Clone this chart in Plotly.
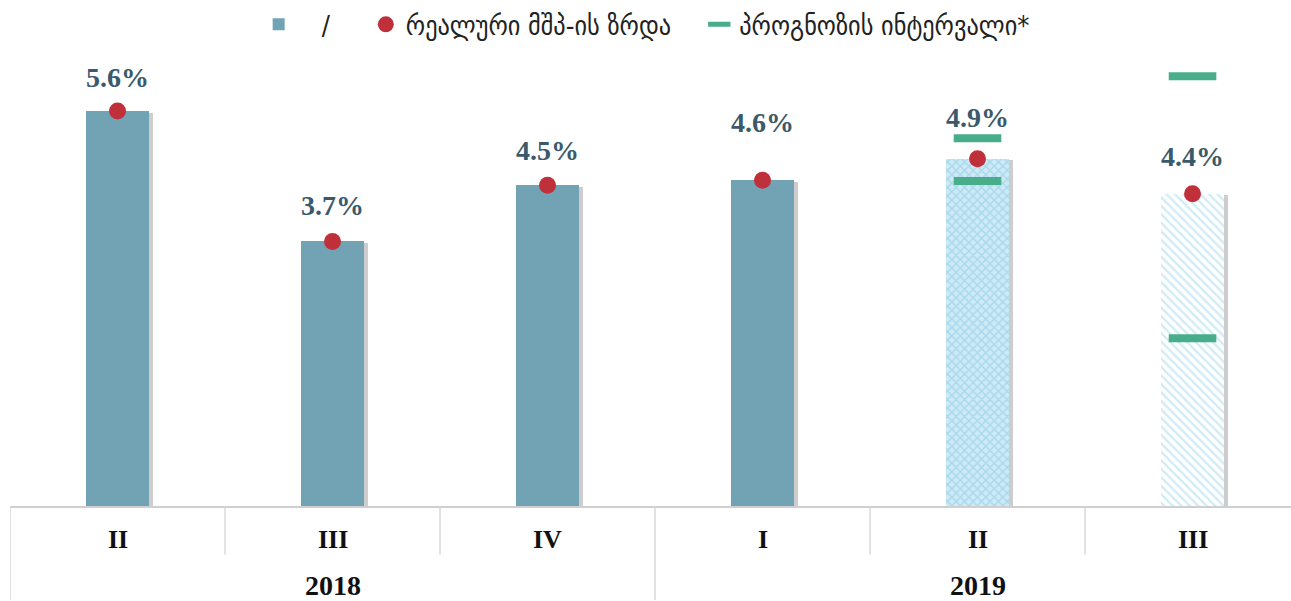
import plotly.graph_objects as go

# ---- data ----
quarters = ["II", "III", "IV", "I", "II", "III"]
years = ["2018", "2019"]
year_of_quarter = ["2018", "2018", "2018", "2019", "2019", "2019"]
gdp_growth = [5.56, 3.73, 4.52, 4.59, 4.89, 4.40]
bar_kind = ["actual", "actual", "actual", "actual", "estimate", "forecast"]
interval_low = [None, None, None, None, 4.58, 2.37]
interval_high = [None, None, None, None, 5.18, 6.05]

bar_name = "/"
dot_name = "რეალური მშპ-ის ზრდა"
interval_name = "პროგნოზის ინტერვალი*"

# ---- style ----
label_shift_px = [33, 35, 34, 57, 40, 36]
BAR_W = 0.293
BAR_COL = "#72a3b5"
RED = "#c0303b"
GREEN = "#48ad8a"
LABEL_COL = "#3a5a6b"
SERIF = "Liberation Serif, DejaVu Serif, serif"
SANS = "DejaVu Sans Condensed, DejaVu Sans, Noto Sans, sans-serif"
NB = "\u00a0"

x = list(range(len(quarters)))

fig = go.Figure()

# soft shadow behind bars
fig.add_trace(go.Bar(
    x=x, y=[v - 0.02 for v in gdp_growth], width=BAR_W, offset=-BAR_W / 2 + 0.02,
    marker=dict(color="rgba(90,90,90,0.30)", line=dict(width=0)),
    showlegend=False, hoverinfo="skip"))

# actual bars
act = [i for i, k in enumerate(bar_kind) if k == "actual"]
fig.add_trace(go.Bar(
    x=[x[i] for i in act], y=[gdp_growth[i] for i in act], width=BAR_W,
    offset=-BAR_W / 2, name=NB * 3 + bar_name + NB * 4,
    marker=dict(color=BAR_COL, line=dict(width=0))))

# estimate bar (cross pattern)
est = [i for i, k in enumerate(bar_kind) if k == "estimate"]
fig.add_trace(go.Bar(
    x=[x[i] for i in est], y=[gdp_growth[i] for i in est], width=BAR_W,
    offset=-BAR_W / 2, showlegend=False,
    marker=dict(color="#cdeaf6", line=dict(width=0),
                pattern=dict(shape="x", fgcolor="#84c5e2", bgcolor="#cdeaf6",
                             size=6, solidity=0.4))))

# forecast bar (diagonal lines)
fc = [i for i, k in enumerate(bar_kind) if k == "forecast"]
fig.add_trace(go.Bar(
    x=[x[i] for i in fc], y=[gdp_growth[i] for i in fc], width=BAR_W,
    offset=-BAR_W / 2, showlegend=False,
    marker=dict(color="#ffffff", line=dict(width=0),
                pattern=dict(shape="\\", fgcolor="#a3d8ee", bgcolor="#ffffff",
                             size=6, solidity=0.4))))

# real GDP growth dots
fig.add_trace(go.Scatter(
    x=x, y=gdp_growth, mode="markers", name=dot_name + NB * 3,
    marker=dict(color=RED, size=17, line=dict(width=0))))

# forecast interval dashes
ix, iy = [], []
for i in range(len(x)):
    for v in (interval_low[i], interval_high[i]):
        if v is not None:
            ix.append(x[i]); iy.append(v)
fig.add_trace(go.Scatter(
    x=ix, y=iy, mode="markers", name=interval_name,
    marker=dict(symbol="line-ew", size=34, color=GREEN,
                line=dict(width=8, color=GREEN))))

# value labels
for i, v in enumerate(gdp_growth):
    fig.add_annotation(x=x[i], y=v, xref="x", yref="y", text=f"<b>{v:.1f}%</b>",
                       showarrow=False, yshift=label_shift_px[i] + 1,
                       font=dict(family=SERIF, size=28, color=LABEL_COL))

PLOT_H = 507.0
# quarter labels
for i, q in enumerate(quarters):
    fig.add_annotation(x=x[i], y=-33 / PLOT_H, xref="x", yref="paper",
                       text=f"<b>{q}</b>", showarrow=False, yanchor="middle",
                       font=dict(family=SERIF, size=26, color="#111111"))
# year labels
for yr in years:
    idx = [i for i, y in enumerate(year_of_quarter) if y == yr]
    cx = (x[idx[0]] + x[idx[-1]]) / 2
    fig.add_annotation(x=cx, y=-79 / PLOT_H, xref="x", yref="paper",
                       text=f"<b>{yr}</b>", showarrow=False, yanchor="middle",
                       font=dict(family=SERIF, size=28, color="#111111"))

# axis frame lines
GRID = "#d9d9d9"
shapes = [dict(type="line", xref="paper", yref="paper", x0=0, x1=1, y0=0, y1=0,
               line=dict(color="#cfcfcf", width=2))]
for i in range(len(x) + 1):
    b = i - 0.5
    full = i == 0 or i == len(x) or year_of_quarter[min(i, len(x) - 1)] != year_of_quarter[i - 1]
    shapes.append(dict(type="line", xref="x", yref="paper", x0=b, x1=b, y0=0,
                       y1=(-94 if full else -48) / PLOT_H,
                       line=dict(color=GRID, width=1.5)))
fig.update_layout(shapes=shapes)

fig.update_layout(
    width=1291, height=601,
    margin=dict(l=10, r=0, t=0, b=94),
    plot_bgcolor="white", paper_bgcolor="white",
    barmode="overlay", bargap=0,
    xaxis=dict(range=[-0.5, 5.458], showticklabels=False, showgrid=False,
               zeroline=False, showline=False, fixedrange=True),
    yaxis=dict(range=[0, 7.05], visible=False, showgrid=False, zeroline=False),
    legend=dict(orientation="h", x=0.497, xanchor="center", y=(PLOT_H - 20) / PLOT_H,
                yanchor="middle", font=dict(family=SANS, size=27, color="#222222"),
                bgcolor="rgba(0,0,0,0)", itemwidth=30, tracegroupgap=0),
    showlegend=True,
)

fig.write_html("out.html", config={"displayModeBar": False},
               post_script="document.body.style.margin='0';document.body.style.overflow='hidden';")
